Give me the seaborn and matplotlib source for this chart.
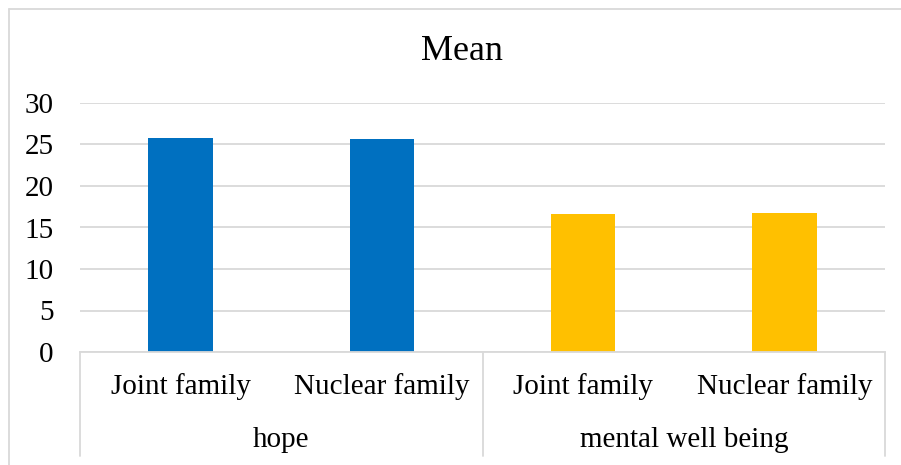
import matplotlib
matplotlib.use("Agg")
import matplotlib.pyplot as plt
import matplotlib.transforms as mtransforms
from matplotlib.lines import Line2D
import seaborn as sns
import pandas as pd

groups = ["hope", "hope", "mental well being", "mental well being"]
subcats = ["Joint family", "Nuclear family", "Joint family", "Nuclear family"]
means = [25.8, 25.7, 16.6, 16.7]
group_labels = ["hope", "mental well being"]
colors = ["#0070C0", "#FFC000"]
yticks = [0, 5, 10, 15, 20, 25, 30]
title = "Mean"

sns.set_style("white")
plt.rcParams["font.family"] = ["Liberation Serif", "DejaVu Serif"]
plt.rcParams["text.color"] = "black"

W, H = 901, 465
fig = plt.figure(figsize=(W / 100, H / 100), dpi=100)
x0, x1, y0, y1 = 80, 885, 352, 103
ax = fig.add_axes([x0 / W, (H - y0) / H, (x1 - x0) / W, (y0 - y1) / H])

df = pd.DataFrame({
    "key": [g + "|" + s for g, s in zip(groups, subcats)],
    "group": groups,
    "mean": means,
})
sns.barplot(data=df, x="key", y="mean", hue="group", palette=colors,
            width=0.32, dodge=False, legend=False, ax=ax, saturation=1,
            linewidth=0)

ax.set_xlim(-0.5, len(means) - 0.5)
ax.set_ylim(0, 30)
ax.set_yticks(yticks)
ax.set_xticks([])
ax.set_xlabel("")
ax.set_ylabel("")
ax.tick_params(axis="y", length=0, pad=19, labelsize=21, colors="black")
ax.yaxis.grid(True, color="#D9D9D9", lw=1.3)
ax.set_axisbelow(True)
for s in ["top", "right", "left"]:
    ax.spines[s].set_visible(False)
ax.spines["bottom"].set_color("#D9D9D9")
ax.spines["bottom"].set_linewidth(1.3)

trans = mtransforms.blended_transform_factory(ax.transData, ax.transAxes)
ph = y0 - y1
row1 = -(387 - y0) / ph
row2 = -(440 - y0) / ph
bottom = -(456 - y0) / ph
for i, s in enumerate(subcats):
    ax.text(i, row1, s, transform=trans, ha="center", va="center",
            fontsize=21, color="black")
n_groups = len(group_labels)
per = len(means) // n_groups
for j, g in enumerate(group_labels):
    ax.text(j * per + (per - 1) / 2, row2, g, transform=trans, ha="center",
            va="center", fontsize=21, color="black")
for xb in [-0.5 + j * per for j in range(n_groups + 1)]:
    ax.add_line(Line2D([xb, xb], [0, bottom], transform=trans, color="#D9D9D9",
                       lw=1.3, clip_on=False))

# outer chart border
fig.add_artist(Line2D([8.5 / W, 8.5 / W], [1 - 9.5 / H, -0.1],
                      transform=fig.transFigure, color="#D9D9D9", lw=1.3))
fig.add_artist(Line2D([8.5 / W, 1.1], [1 - 9.5 / H, 1 - 9.5 / H],
                      transform=fig.transFigure, color="#D9D9D9", lw=1.3))

fig.text(462 / W, 1 - 52 / H, title, ha="center", va="center", fontsize=26,
         color="black")

fig.savefig("out.png", dpi=100)
